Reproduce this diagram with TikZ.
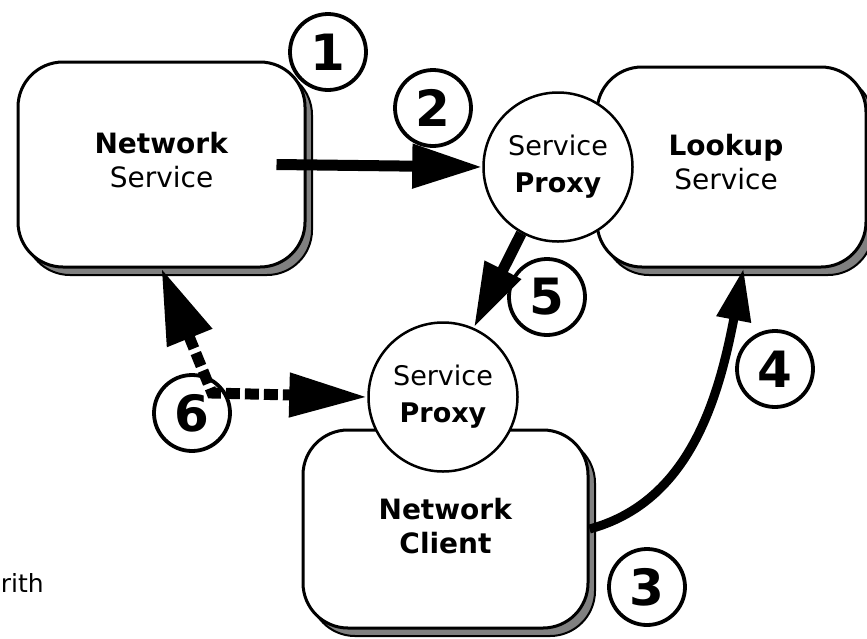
\documentclass[tikz,border=0pt]{standalone}
\usepackage{fontspec}
\setmainfont{DejaVu Sans}
\usetikzlibrary{arrows.meta,shadows}
\definecolor{shadowgray}{RGB}{128,128,128}
\begin{document}
\begin{tikzpicture}[x=1pt,y=-1pt,
  box/.style={draw=black, line width=3pt, fill=white, rounded corners=45pt, inner sep=0pt,
    general shadow={fill=shadowgray, draw=black, line width=2pt, shadow xshift=7pt, shadow yshift=-8pt}},
  lbl/.style={align=center, inner sep=0pt, font=\fontsize{28}{34}\selectfont},
  proxy/.style={draw=black, line width=2.5pt, fill=white, circle, minimum size=149pt, inner sep=0pt,
    align=center, font=\fontsize{27}{37}\selectfont},
  num/.style={draw=black, line width=3.8pt, fill=white, circle, minimum size=76pt, inner sep=0pt,
    font=\fontsize{50}{50}\selectfont\bfseries},
  flow/.style={line width=11pt, line join=miter},
]
\useasboundingbox (0,0) rectangle (867,638);
% boxes and proxies
\node[box, minimum width=287pt, minimum height=205pt] (ns) at (161.5,164.5) {};
\node[lbl] (nst) at ([yshift=4pt]ns.center) {\textbf{Network}\\Service};
\node[box, minimum width=269pt, minimum height=200pt] (lk) at (731.5,167) {};
\node[lbl] (lkt) at (726,162) {\textbf{Lookup}\\Service};
\node[proxy] (p1) at (558,167) {Service\\\textbf{Proxy}};
\node[box, minimum width=285pt, minimum height=198pt] (nc) at (445.5,529) {};
\node[lbl] (nct) at (445.5,526) {\textbf{Network}\\\textbf{Client}};
\node[proxy] (p2) at (443,397) {Service\\\textbf{Proxy}};
% numbers
\node[num] (n1) at (328,52) {1};
\node[num] (n2) at (433,108) {2};
\node[num] (n3) at (647,587) {3};
\node[num] (n4) at (775,369) {4};
\node[num] (n5) at (547,297) {5};
\node[num] (n6) at (192,413) {6};
% connectors
\coordinate (c6) at (212,393);
\draw[flow, -{Triangle[length=70pt,width=42pt]}] ([xshift=-30pt]ns.east) -- (p1.west);
\draw[flow, -{Triangle[length=65pt,width=38pt]}] (p1.241) -- (p2.66);
\draw[line width=9pt, -{Triangle[length=52pt,width=33pt]}] (nc.east) .. controls +(100,-27) and +(-25,130) .. ([xshift=12pt]lk.south);
\draw[flow, dash pattern=on 14pt off 5pt, {Triangle[length=75pt,width=46pt]}-{Triangle[length=78pt,width=42pt]}] (ns.south) -- (c6) -- (p2.west);
% fragment text
\node[anchor=east, inner sep=0pt, font=\fontsize{25}{25}\selectfont] (frag) at (44,583) {rith};
\end{tikzpicture}
\end{document}
